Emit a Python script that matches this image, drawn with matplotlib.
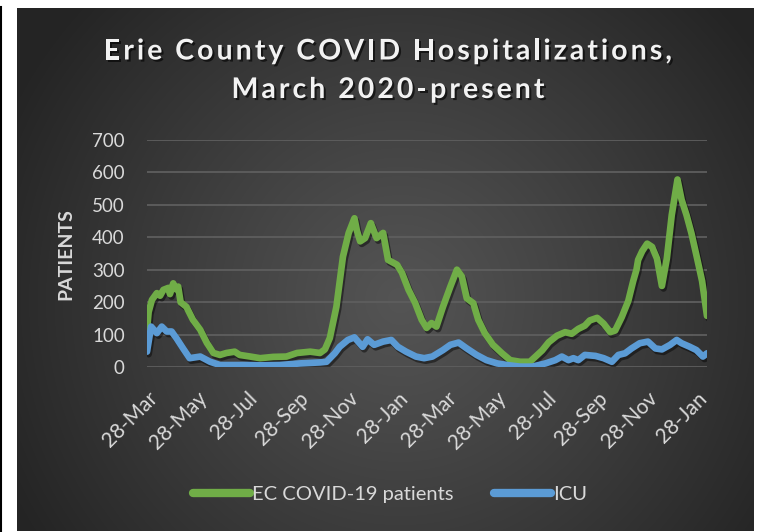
import numpy as np
import pandas as pd
import matplotlib
matplotlib.use("Agg")
import matplotlib.pyplot as plt
import matplotlib.dates as mdates
import matplotlib.patheffects as pe
from matplotlib.lines import Line2D

# ---------------- data ----------------
start_date = "2020-03-28"

patients_day = [0, 2, 6, 12, 16, 20, 26, 28, 32, 35, 38, 41, 48, 56, 65, 73, 81, 89, 97,
                107, 113, 126, 138, 154, 170, 183, 199, 211, 217, 223, 231, 239, 246, 253,
                256, 260, 266, 273, 280, 288, 294, 305, 311, 319, 327, 335, 341, 347, 353,
                361, 370, 378, 384, 390, 398, 404, 412, 422, 433, 443, 455, 467, 482, 490,
                500, 510, 518, 526, 534, 540, 549, 557, 565, 571, 579, 587, 593, 597, 599,
                604, 610, 616, 622, 628, 634, 640, 647, 652, 658, 664, 671, 677, 683]
patients = [115, 170, 207, 228, 220, 238, 244, 225, 258, 240, 248, 200, 186, 146, 115, 75,
            44, 38, 44, 48, 38, 33, 28, 32, 33, 44, 48, 44, 55, 90, 186, 340, 413, 458,
            420, 387, 397, 443, 397, 413, 330, 315, 290, 238, 198, 146, 121, 136, 125,
            186, 248, 300, 279, 212, 197, 146, 105, 69, 43, 22, 17, 17, 52, 77,
            97, 108, 103, 118, 128, 144, 152, 134, 108, 113, 154, 204, 265, 300, 330,
            357, 380, 370, 334, 250, 334, 468, 577, 515, 468, 412, 334, 265, 158]

icu_day = [0, 5, 12, 18, 24, 30, 36, 44, 52, 65, 77, 89, 105, 122, 138, 162, 187, 211,
           219, 229, 235, 245, 253, 263, 269, 277, 288, 298, 306, 316, 328, 338, 348,
           361, 370, 380, 390, 402, 414, 427, 439, 455, 470, 486, 498, 506, 514, 520,
           526, 534, 547, 557, 567, 575, 583, 591, 601, 611, 620, 628, 638, 646, 652,
           662, 670, 678, 683]
icu = [48, 125, 105, 125, 110, 110, 89, 58, 28, 33, 17, 7, 7, 7, 6, 7, 12, 15,
       17, 43, 63, 84, 92, 63, 86, 69, 79, 84, 63, 48, 33, 28, 33,
       53, 69, 76, 58, 38, 22, 12, 7, 2, 2, 12, 22, 33, 22, 28,
       22, 38, 35, 28, 17, 38, 43, 58, 74, 79, 58, 55, 69, 84, 74,
       63, 53, 33, 43]

tick_dates = ["2020-03-28", "2020-05-28", "2020-07-28", "2020-09-28", "2020-11-28",
              "2021-01-28", "2021-03-28", "2021-05-28", "2021-07-28", "2021-09-28",
              "2021-11-28", "2022-01-28"]
end_date = "2022-02-09"

series_names = ["EC COVID-19 patients", "ICU"]
series_colors = ["#70AD47", "#5B9BD5"]
title_lines = ["Erie County COVID Hospitalizations,", "March 2020-present"]
ylabel_text = "PATIENTS"

# ---------------- figure ----------------
FONT = "Lato"
W, H = 762, 532
fig = plt.figure(figsize=(W / 100, H / 100), dpi=100)
fig.patch.set_facecolor("white")

# dark panel with radial gradient
px0, px1, py0, py1 = 17, 754, 8, 531
bg = fig.add_axes([px0 / W, (H - py1) / H, (px1 - px0) / W, (py1 - py0) / H])
bg.set_axis_off()
nx, ny = px1 - px0, py1 - py0
xx, yy = np.meshgrid(np.arange(nx), np.arange(ny))
cx, cy = 400 - px0, 300 - py0
r = np.sqrt((xx - cx) ** 2 + (yy - cy) ** 2) / 430.0
r = np.clip(r, 0, 1)
c_in, c_out = 0x54 / 255, 0x25 / 255
val = c_in + (c_out - c_in) * r ** 1.1
img = np.dstack([val, val, val])
bg.imshow(img, extent=[0, 1, 0, 1], aspect="auto", origin="upper")
bg.set_xlim(0, 1)
bg.set_ylim(0, 1)

# black line on the far left
fig.add_artist(Line2D([0.8 / W, 0.8 / W], [0, (H - 7) / H], color="black", lw=1.5))

# main axes
ax_l, ax_r, ax_b, ax_t = 147, 707, 367.3, 139.5
ax = fig.add_axes([ax_l / W, (H - ax_b) / H, (ax_r - ax_l) / W, (ax_b - ax_t) / H])
ax.set_facecolor("none")

t0 = pd.Timestamp(start_date)
x_p = t0 + pd.to_timedelta(patients_day, unit="D")
x_i = t0 + pd.to_timedelta(icu_day, unit="D")

shadow = [pe.SimpleLineShadow(offset=(1.2, -1.8), shadow_color="black", alpha=0.45),
          pe.Normal()]
ax.plot(x_p, patients, color=series_colors[0], lw=4.8, solid_joinstyle="round",
        solid_capstyle="round", label=series_names[0], path_effects=shadow, zorder=3)
ax.plot(x_i, icu, color=series_colors[1], lw=4.8, solid_joinstyle="round",
        solid_capstyle="round", label=series_names[1], path_effects=shadow, zorder=4)

ax.set_ylim(0, 700)
ax.set_yticks(np.arange(0, 701, 100))
ax.set_xlim(t0, pd.Timestamp(end_date))
ax.set_xticks(pd.to_datetime(tick_dates))
ax.xaxis.set_major_formatter(mdates.DateFormatter("%d-%b"))

ax.yaxis.grid(True, color="#5e5e5e", lw=1.3)
ax.set_axisbelow(True)
for s in ax.spines.values():
    s.set_visible(False)
ax.tick_params(axis="both", length=0, colors="#d9d9d9")
ax.tick_params(axis="y", pad=16, labelsize=13.5)
ax.tick_params(axis="x", pad=15, labelsize=15)
for lab in ax.get_yticklabels():
    lab.set_fontfamily(FONT)
for lab in ax.get_xticklabels():
    lab.set_fontfamily(FONT)
    lab.set_rotation(45)
    lab.set_ha("right")
    lab.set_va("top")
    lab.set_rotation_mode("anchor")

# y label
fig.text(66 / W, 1 - 254 / H, ylabel_text, rotation=90, ha="center", va="center",
         color="#d9d9d9", fontsize=14, fontweight="bold", family=FONT)

# title with letter spacing (drawn character by character)
renderer = fig.canvas.get_renderer()
title_size = 20.5
tracking = 3.0  # extra pixels between characters
title_centre_x = 388
title_baselines = [59.5, 98]
title_fx = [pe.SimplePatchShadow(offset=(1.5, -1.5), shadow_rgbFace="black", alpha=0.6),
            pe.Normal()]


def text_width(s):
    probe = fig.text(0, 0, s + "|", fontsize=title_size, fontweight="bold", family=FONT)
    bar = fig.text(0, 0, "|", fontsize=title_size, fontweight="bold", family=FONT)
    w = probe.get_window_extent(renderer).width - bar.get_window_extent(renderer).width
    probe.remove()
    bar.remove()
    return w


for line, base in zip(title_lines, title_baselines):
    total = text_width(line) + tracking * (len(line) - 1)
    x_start = title_centre_x - total / 2
    for i, ch in enumerate(line):
        if ch == " ":
            continue
        xi = x_start + (text_width(line[:i]) if i > 0 else 0) + tracking * i
        fig.text(xi / W, 1 - base / H, ch, ha="left", va="baseline", color="#f2f2f2",
                 fontsize=title_size, fontweight="bold", family=FONT, path_effects=title_fx)

# legend
leg = fig.legend(loc="center", bbox_to_anchor=(390 / W, 1 - 494 / H), ncol=2,
                 frameon=False, handlelength=2.85, handletextpad=0.1, columnspacing=2.0,
                 prop={"family": FONT, "size": 14.5})
for t in leg.get_texts():
    t.set_color("#d9d9d9")
for h in leg.legend_handles:
    h.set_linewidth(6)
    h.set_path_effects([])

fig.savefig("out.png", dpi=100, facecolor=fig.get_facecolor())
